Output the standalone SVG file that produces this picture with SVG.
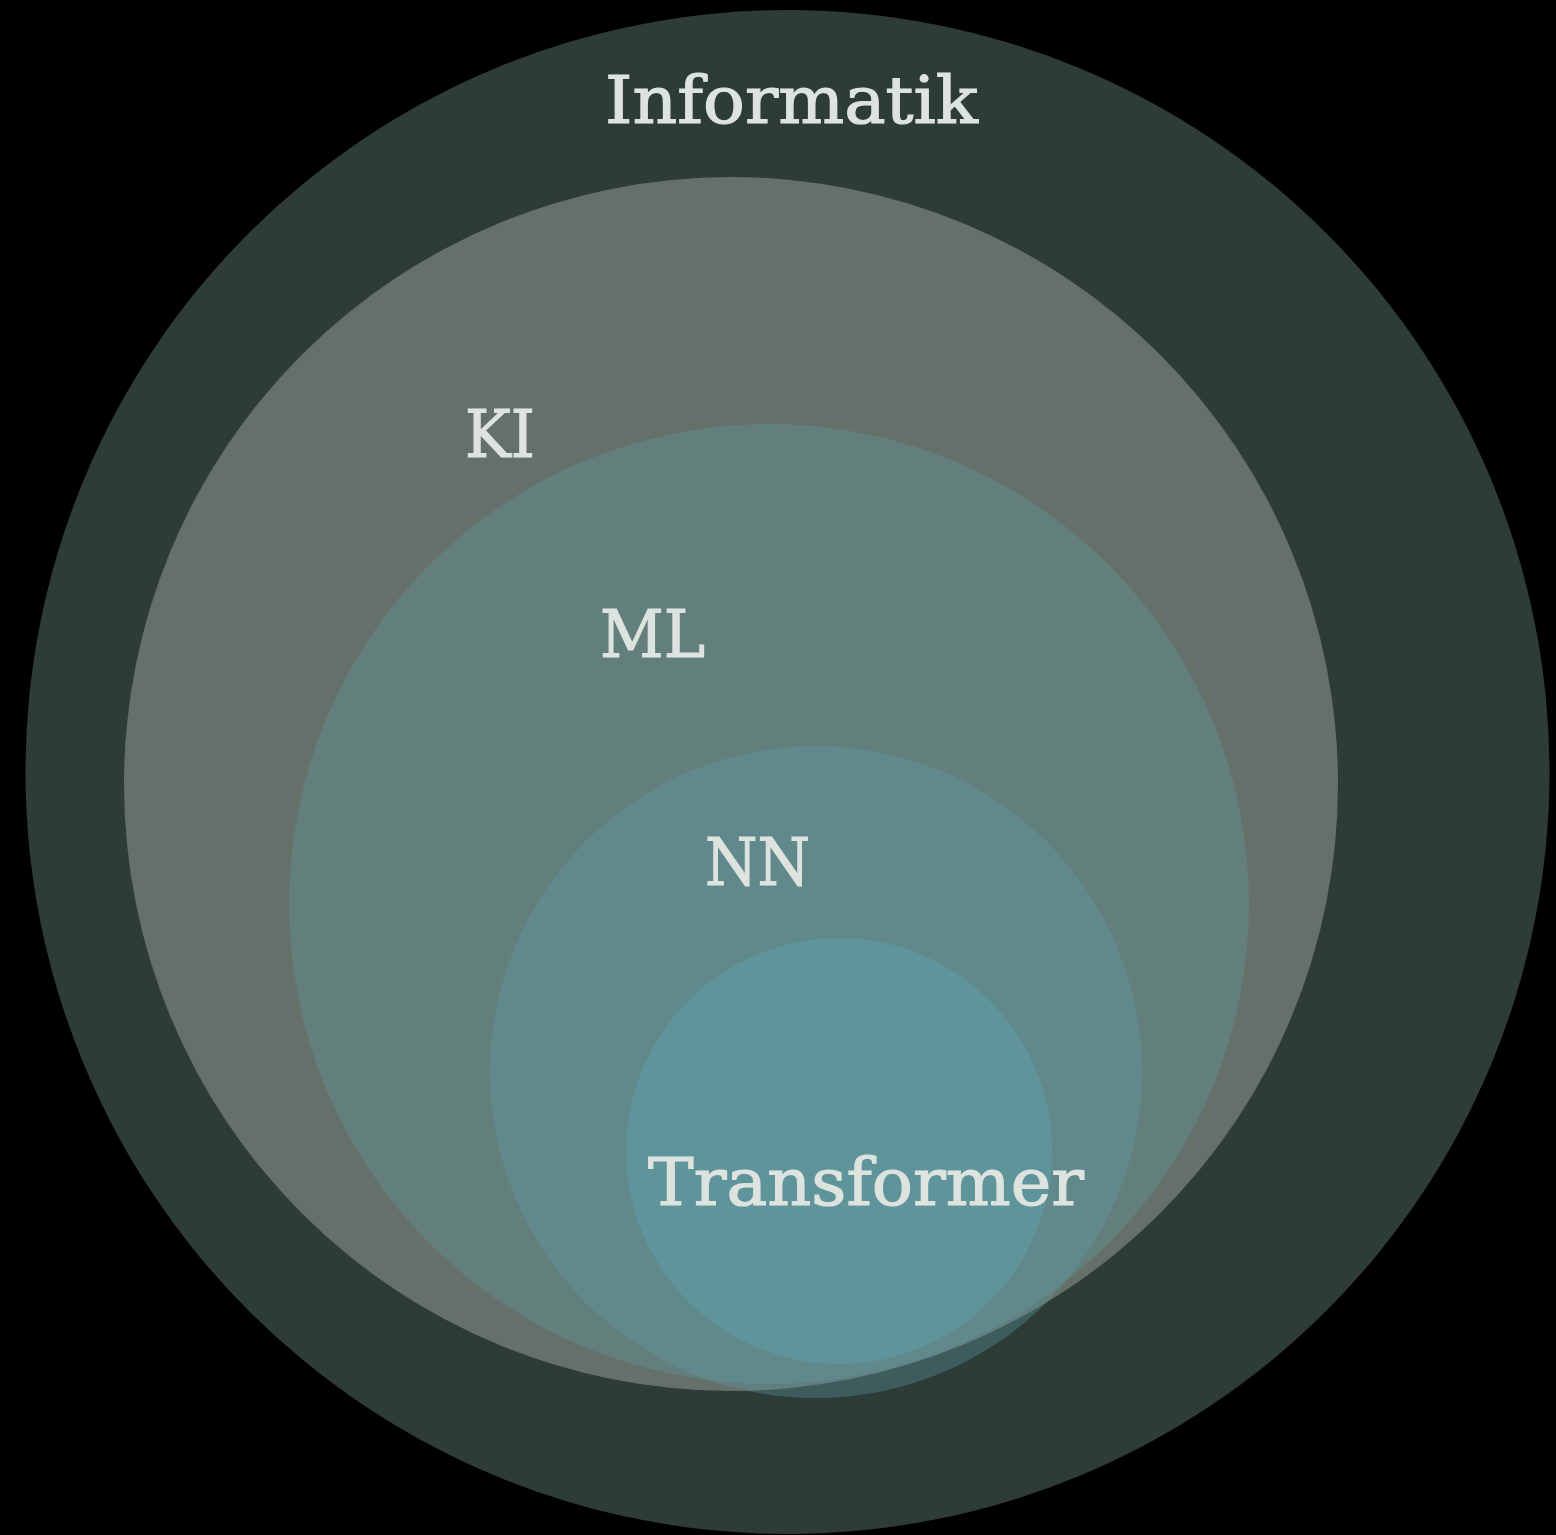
<svg xmlns="http://www.w3.org/2000/svg" width="1556" height="1535" viewBox="0 0 1556 1535">
<style>
.lbl{font-family:"DejaVu Serif","Liberation Serif",serif;font-size:66px;fill:#dde3df;stroke:#dde3df;stroke-width:1.2px;}
</style>
<rect x="0" y="0" width="1556" height="1535" fill="#000000"/>
<g id="informatik">
<circle cx="787.5" cy="772" r="762" fill="#2d3c37"/>
<text class="lbl" x="605" y="123" textLength="373" lengthAdjust="spacingAndGlyphs">Informatik</text>
</g>
<g id="ki">
<circle cx="731" cy="784" r="607" fill="#65706a"/>
<text class="lbl" x="465" y="457" textLength="70" lengthAdjust="spacingAndGlyphs">KI</text>
</g>
<g id="ml">
<circle cx="769" cy="904" r="480" fill="#637f7c"/>
<text class="lbl" x="600" y="657" textLength="105" lengthAdjust="spacingAndGlyphs">ML</text>
</g>
<g id="nn">
<circle cx="816" cy="1072" r="326" fill="#5d9ca6" fill-opacity="0.34"/>
<text class="lbl" x="705" y="885" textLength="105" lengthAdjust="spacingAndGlyphs">NN</text>
</g>
<g id="transformer">
<circle cx="839" cy="1151" r="213" fill="#5f959a"/>
<text class="lbl" x="648" y="1205" textLength="436" lengthAdjust="spacingAndGlyphs">Transformer</text>
</g>
<g id="connectors"/>
</svg>
